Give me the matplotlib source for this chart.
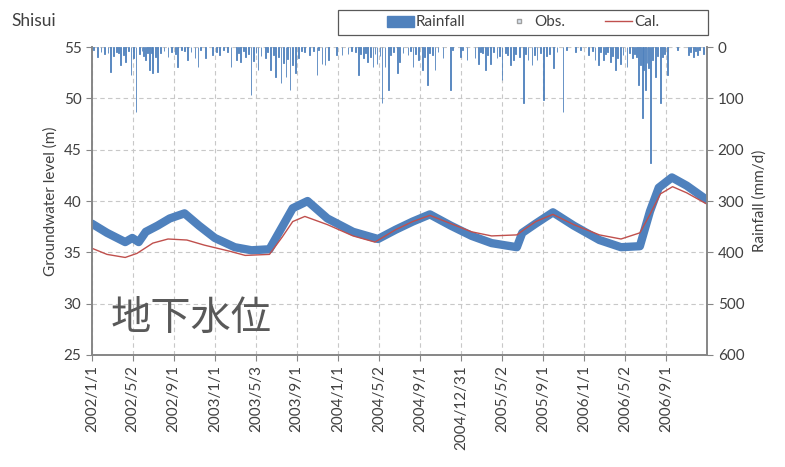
import numpy as np
import pandas as pd
import matplotlib
matplotlib.use('Agg')
import matplotlib.pyplot as plt
from matplotlib.lines import Line2D
from matplotlib.patches import Patch, Rectangle

plt.rcParams['font.family'] = ['Lato', 'Noto Sans CJK JP', 'DejaVu Sans']

# daily rainfall events (mm/d), main spikes
rain_dates = ['2002-01-19', '2002-02-26', '2002-03-28', '2002-04-12', '2002-04-27', '2002-05-12',
              '2002-06-10', '2002-06-22', '2002-07-01', '2002-07-16', '2002-08-15', '2002-09-13',
              '2002-10-13', '2002-11-03', '2002-11-12', '2002-12-05', '2002-12-26', '2003-01-16',
              '2003-02-18', '2003-03-05', '2003-03-19', '2003-04-03', '2003-04-18', '2003-05-09',
              '2003-05-30', '2003-06-16', '2003-07-01', '2003-07-16', '2003-07-31', '2003-08-12',
              '2003-08-27', '2003-09-05', '2003-10-10', '2003-10-31', '2003-11-15', '2003-11-24',
              '2003-12-03', '2003-12-29', '2004-01-13', '2004-01-31', '2004-03-01', '2004-03-16',
              '2004-03-30', '2004-04-14', '2004-04-26', '2004-05-11', '2004-05-20', '2004-05-29',
              '2004-06-25', '2004-07-03', '2004-07-27', '2004-08-11', '2004-08-26', '2004-09-07',
              '2004-09-22', '2004-10-15', '2004-11-08', '2004-11-29', '2004-12-29', '2005-01-18',
              '2005-02-11', '2005-02-20', '2005-03-13', '2005-03-28', '2005-04-17', '2005-05-02',
              '2005-05-26', '2005-06-04', '2005-07-04', '2005-07-18', '2005-07-30', '2005-08-14',
              '2005-09-01', '2005-10-01', '2005-10-30', '2005-12-05', '2006-01-13', '2006-02-02',
              '2006-02-11', '2006-02-26', '2006-03-19', '2006-04-03', '2006-04-18', '2006-05-08',
              '2006-05-23', '2006-06-10', '2006-06-22', '2006-07-01', '2006-07-16', '2006-07-31',
              '2006-08-14', '2006-09-04', '2006-11-06', '2006-11-20', '2006-12-02', '2006-12-20']
rain_mm = [20, 49, 35, 29, 55, 127,
           25, 45, 51, 49, 20, 39,
           25, 22, 39, 22, 16, 16,
           39, 25, 29, 20, 94, 45,
           22, 45, 58, 70, 58, 84,
           51, 22, 16, 55, 33, 35,
           25, 16, 16, 13, 55, 22,
           29, 39, 33, 109, 39, 84,
           51, 29, 16, 39, 25, 45,
           74, 45, 22, 84, 20, 25,
           22, 33, 45, 33, 22, 64,
           35, 25, 109, 25, 35, 25,
           103, 41, 127, 10, 16, 25,
           35, 25, 29, 45, 33, 39,
           22, 74, 138, 84, 226, 58,
           109, 55, 16, 20, 16, 13]

# smaller rain days
small_dates = ['2002-01-05', '2002-01-28', '2002-02-08', '2002-02-18', '2002-03-06', '2002-03-15',
               '2002-03-22', '2002-04-05', '2002-04-19', '2002-05-04', '2002-05-22', '2002-05-30',
               '2002-06-04', '2002-06-16', '2002-06-27', '2002-07-08', '2002-07-24', '2002-08-03',
               '2002-08-25', '2002-09-05', '2002-09-24', '2002-10-02', '2002-10-22', '2002-11-20',
               '2003-01-05', '2003-01-27', '2003-02-08', '2003-03-12', '2003-03-27', '2003-04-10',
               '2003-04-26', '2003-05-03', '2003-05-18', '2003-06-06', '2003-06-24', '2003-07-08',
               '2003-07-23', '2003-08-04', '2003-08-19', '2003-09-14', '2003-09-24', '2003-10-20',
               '2003-11-05', '2004-02-10', '2004-02-22', '2004-03-08', '2004-03-23', '2004-04-06',
               '2004-04-20', '2004-05-05', '2004-06-05', '2004-06-14', '2004-07-12', '2004-08-03',
               '2004-08-18', '2004-09-15', '2004-09-30', '2004-10-07', '2004-10-24', '2004-12-05',
               '2005-01-05', '2005-02-28', '2005-03-05', '2005-03-21', '2005-04-06', '2005-04-25',
               '2005-05-12', '2005-05-19', '2005-06-12', '2005-06-22', '2005-07-10', '2005-08-06',
               '2005-08-24', '2005-09-10', '2005-09-20', '2005-10-12', '2005-11-10', '2005-12-20',
               '2006-01-25', '2006-02-18', '2006-03-05', '2006-03-11', '2006-03-26', '2006-04-10',
               '2006-04-26', '2006-05-15', '2006-05-30', '2006-06-04', '2006-06-16', '2006-06-27',
               '2006-07-06', '2006-07-11', '2006-07-22', '2006-08-06', '2006-08-22', '2006-08-28',
               '2006-10-05', '2006-11-12', '2006-11-27', '2006-12-10']
small_mm = [6, 10, 14, 12, 18, 9,
            12, 16, 8, 22, 14, 8,
            18, 11, 12, 20, 12, 8,
            10, 14, 6, 8, 10, 6,
            9, 6, 10, 12, 8, 14,
            26, 12, 18, 10, 16, 20,
            30, 24, 35, 8, 10, 8,
            6, 8, 10, 14, 12, 20,
            14, 18, 16, 10, 12, 8,
            14, 20, 12, 16, 10, 6,
            6, 10, 12, 16, 10, 18,
            12, 16, 14, 20, 14, 16,
            12, 18, 14, 10, 6, 5,
            8, 10, 14, 10, 18, 22,
            16, 12, 14, 20, 35, 45,
            30, 40, 25, 18, 20, 14,
            6, 10, 8, 6]

# groundwater level (m)
obs_dates = ['2002-01-01', '2002-02-15', '2002-04-10', '2002-05-01', '2002-05-20', '2002-06-10',
             '2002-07-15', '2002-08-20', '2002-10-03', '2002-11-15', '2003-01-01', '2003-03-01',
             '2003-04-20', '2003-06-12', '2003-07-20', '2003-08-20', '2003-10-03', '2003-12-01',
             '2004-02-15', '2004-04-29', '2004-06-20', '2004-08-10', '2004-09-30', '2004-12-01',
             '2005-02-01', '2005-04-01', '2005-06-15', '2005-07-01', '2005-08-10', '2005-09-30',
             '2005-12-01', '2006-02-15', '2006-04-20', '2006-06-15', '2006-07-15', '2006-08-10',
             '2006-09-18', '2006-11-01', '2006-12-31']
obs_level = [37.8, 36.9, 36.0, 36.4, 36.0, 37.0,
             37.6, 38.3, 38.8, 37.6, 36.4, 35.5,
             35.2, 35.3, 37.5, 39.3, 40.0, 38.3,
             37.0, 36.3, 37.2, 38.0, 38.7, 37.6,
             36.6, 35.9, 35.5, 36.9, 37.8, 38.9,
             37.6, 36.2, 35.5, 35.6, 39.0, 41.3,
             42.3, 41.5, 40.1]

cal_dates = ['2002-01-01', '2002-02-15', '2002-04-10', '2002-05-15', '2002-07-01', '2002-08-15',
             '2002-10-10', '2002-12-01', '2003-02-15', '2003-04-01', '2003-06-12', '2003-07-20',
             '2003-08-20', '2003-09-25', '2003-12-01', '2004-02-15', '2004-04-20', '2004-06-20',
             '2004-08-10', '2004-09-30', '2004-12-01', '2005-02-01', '2005-04-01', '2005-06-15',
             '2005-07-10', '2005-08-10', '2005-09-30', '2005-12-01', '2006-02-15', '2006-04-20',
             '2006-06-15', '2006-07-15', '2006-08-15', '2006-09-20', '2006-11-01', '2006-12-31']
cal_level = [35.4, 34.8, 34.5, 34.9, 35.9, 36.3,
             36.2, 35.7, 35.1, 34.7, 34.8, 36.5,
             38.0, 38.5, 37.7, 36.6, 36.0, 37.2,
             38.0, 38.6, 37.8, 37.0, 36.6, 36.7,
             37.3, 38.0, 38.7, 37.7, 36.7, 36.3,
             36.9, 38.7, 40.7, 41.4, 40.8, 39.7]

tick_labels = ['2002/1/1', '2002/5/2', '2002/9/1', '2003/1/1', '2003/5/3', '2003/9/1', '2004/1/1',
               '2004/5/2', '2004/9/1', '2004/12/31', '2005/5/2', '2005/9/1', '2006/1/1',
               '2006/5/2', '2006/9/1']

blue = '#4F81BD'
red = '#C0504D'
txt = '#404040'
gray = '#868686'

fig = plt.figure(figsize=(7.85, 4.67), dpi=100)
ax = fig.add_axes([0.117, 0.240, 0.784, 0.659])
ax2 = ax.twinx()

ax.plot(pd.to_datetime(obs_dates), obs_level, color=blue, lw=6, solid_capstyle='round',
        solid_joinstyle='round', zorder=3)
ax.plot(pd.to_datetime(cal_dates), cal_level, color=red, lw=1, zorder=4)

ax2.bar(pd.to_datetime(small_dates), small_mm, width=2.5, color=blue, edgecolor=blue, lw=0.6)
ax2.bar(pd.to_datetime(rain_dates), rain_mm, width=2.5, color=blue, edgecolor=blue, lw=0.6)

ax.set_ylim(25, 55)
ax.set_yticks(np.arange(25, 56, 5))
ax2.set_ylim(600, 0)
ax2.set_yticks(np.arange(0, 601, 100))

ticks = pd.to_datetime(tick_labels, format='%Y/%m/%d')
ax.set_xlim(pd.Timestamp('2002-01-01'), pd.Timestamp('2007-01-01'))
ax.set_xticks(ticks)
ax.set_xticklabels(tick_labels, rotation=90)

ax.grid(True, color='#C8C8C8', ls=(0, (4, 3)), lw=0.8)
ax.set_axisbelow(True)
for a in (ax, ax2):
    a.spines['top'].set_visible(False)
    for s in ('left', 'right', 'bottom'):
        a.spines[s].set_color(gray)
        a.spines[s].set_linewidth(1.2)
    a.tick_params(colors=gray, labelcolor=txt, labelsize=11, length=4)

ax.set_ylabel('Groundwater level (m)', color=txt, fontsize=11, labelpad=4)
ax2.set_ylabel('Rainfall (mm/d)', color=txt, fontsize=11, labelpad=6)

fig.text(0.015, 0.955, 'Shisui', fontsize=12.5, color=txt, va='center')
ax.text(0.03, 0.08, '地下水位', transform=ax.transAxes, fontsize=29,
        color='#595959', family=['Noto Sans CJK JP'])

# legend box
fig.patches.append(Rectangle((338 / 785, 1 - 35 / 467), 370 / 785, 25 / 467,
                             transform=fig.transFigure, fill=False, edgecolor='#595959', lw=0.9))
handles = [Patch(facecolor=blue, edgecolor=blue),
           Line2D([], [], ls='none', marker='s', ms=3, mfc='#DCE6F2', mec='#A0A0A0'),
           Line2D([], [], color=red, lw=1)]
leg = fig.legend(handles, ['Rainfall', 'Obs.', 'Cal.'], ncol=3, loc='center',
                 bbox_to_anchor=(523 / 785, 1 - 22.5 / 467), frameon=False, fontsize=11,
                 handlelength=1.8, handletextpad=0.1, columnspacing=2.6, labelcolor=txt)

fig.savefig('out.png', dpi=100)
